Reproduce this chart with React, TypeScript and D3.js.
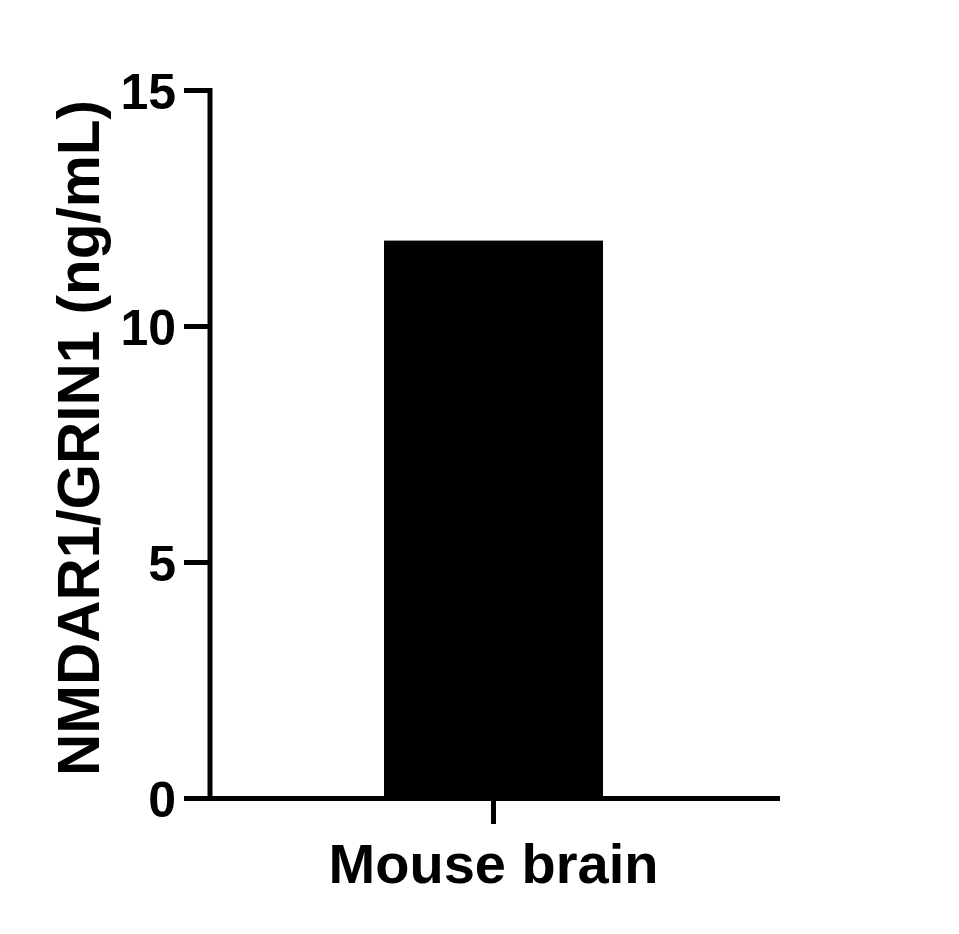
import { useRef, useEffect } from "react";
import * as d3 from "d3";

const categories = ["Mouse brain"];
const values = [11.82];
const yTicks = [0, 5, 10, 15];
const yLabel = "NMDAR1/GRIN1 (ng/mL)";

const App = () => {
  const ref = useRef<SVGSVGElement | null>(null);
  const w = 959;
  const h = 934;
  const font = "'Liberation Sans', Arial, sans-serif";

  useEffect(() => {
    const svg = d3.select(ref.current);
    svg.selectAll("*").remove();

    const axisX = 210;
    const x1 = 780;

    const scaleY = d3.scaleLinear().domain([0, 15]).range([798.5, 90.5]);
    // one band, centred under the x tick
    const scaleX = d3
      .scaleBand<string>()
      .domain(categories)
      .range([axisX, 777])
      .paddingInner(0.4428)
      .paddingOuter(0.4428);

    // bars
    svg
      .selectAll("rect.bar")
      .data(values)
      .enter()
      .append("rect")
      .attr("class", "bar")
      .attr("x", (_, i) => scaleX(categories[i]) as number)
      .attr("width", scaleX.bandwidth())
      .attr("y", (d) => scaleY(d))
      .attr("height", (d) => scaleY(0) - scaleY(d))
      .attr("fill", "#000");

    // y axis line
    svg
      .append("line")
      .attr("x1", axisX)
      .attr("x2", axisX)
      .attr("y1", scaleY(15) - 2.5)
      .attr("y2", scaleY(0) + 2.5)
      .attr("stroke", "#000")
      .attr("stroke-width", 5);

    // x axis line
    svg
      .append("line")
      .attr("x1", axisX)
      .attr("x2", x1)
      .attr("y1", scaleY(0))
      .attr("y2", scaleY(0))
      .attr("stroke", "#000")
      .attr("stroke-width", 5);

    // y ticks
    svg
      .selectAll("line.ytick")
      .data(yTicks)
      .enter()
      .append("line")
      .attr("class", "ytick")
      .attr("x1", 184)
      .attr("x2", axisX)
      .attr("y1", (d) => scaleY(d))
      .attr("y2", (d) => scaleY(d))
      .attr("stroke", "#000")
      .attr("stroke-width", 5);

    svg
      .selectAll("text.ytick")
      .data(yTicks)
      .enter()
      .append("text")
      .attr("class", "ytick")
      .attr("x", 176)
      .attr("y", (d) => scaleY(d))
      .attr("dy", "0.36em")
      .attr("text-anchor", "end")
      .style("font-family", font)
      .style("font-weight", "bold")
      .style("font-size", "50px")
      .text((d) => d);

    // x ticks
    svg
      .selectAll("line.xtick")
      .data(categories)
      .enter()
      .append("line")
      .attr("class", "xtick")
      .attr("x1", (d) => (scaleX(d) as number) + scaleX.bandwidth() / 2)
      .attr("x2", (d) => (scaleX(d) as number) + scaleX.bandwidth() / 2)
      .attr("y1", scaleY(0))
      .attr("y2", 824)
      .attr("stroke", "#000")
      .attr("stroke-width", 5);

    svg
      .selectAll("text.xtick")
      .data(categories)
      .enter()
      .append("text")
      .attr("class", "xtick")
      .attr("x", (d) => (scaleX(d) as number) + scaleX.bandwidth() / 2)
      .attr("y", 883)
      .attr("text-anchor", "middle")
      .style("font-family", font)
      .style("font-weight", "bold")
      .style("font-size", "56px")
      .text((d) => d);

    // y axis title
    svg
      .append("text")
      .attr("transform", "translate(99,438) rotate(-90)")
      .attr("text-anchor", "middle")
      .style("font-family", font)
      .style("font-weight", "bold")
      .style("font-size", "58.5px")
      .text(yLabel);
  }, []);

  return (
    <svg
      ref={ref}
      width={w}
      height={h}
      style={{ position: "absolute", left: 0, top: 0, background: "#fff" }}
    />
  );
};

export default App;
